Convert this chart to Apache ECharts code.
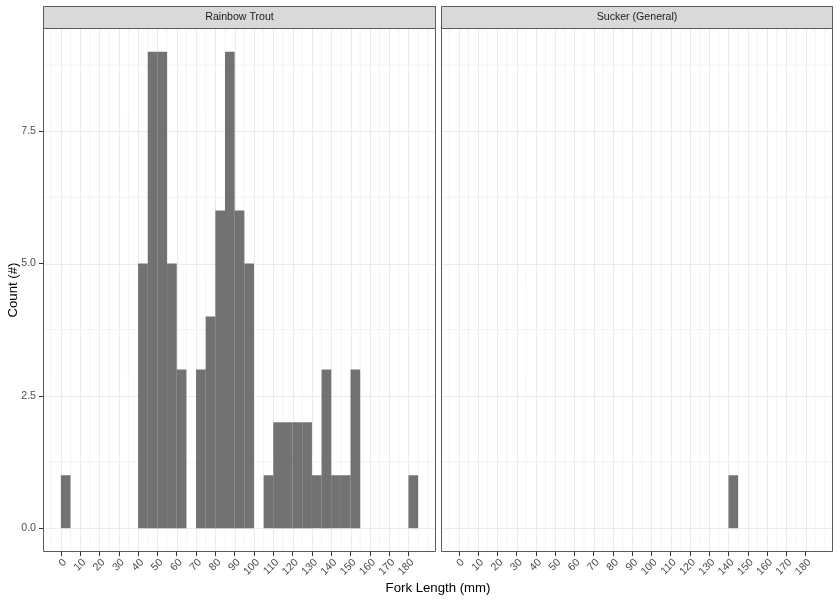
<!DOCTYPE html>
<html>
<head>
<meta charset="utf-8">
<script src="https://cdn.jsdelivr.net/npm/echarts@6/dist/echarts.min.js"></script>
<style>
html,body{margin:0;padding:0;background:#fff;}
#chart{width:840px;height:600px;}
</style>
</head>
<body>
<div id="chart"></div>
<script>
// ---- data ----
const facetNames = ['Rainbow Trout', 'Sucker (General)'];
const binWidth = 5;
const binStarts = [0,5,10,15,20,25,30,35,40,45,50,55,60,65,70,75,80,85,90,95,100,105,110,115,120,125,130,135,140,145,150,155,160,165,170,175,180];
const rainbowCounts = [1,0,0,0,0,0,0,0,5,9,9,5,3,0,3,4,6,9,6,5,0,1,2,2,2,2,1,3,1,1,3,0,0,0,0,0,1];
const suckerCounts  = [0,0,0,0,0,0,0,0,0,0,0,0,0,0,0,0,0,0,0,0,0,0,0,0,0,0,0,0,1,0,0,0,0,0,0,0,0];
const xTickLabels = [0,10,20,30,40,50,60,70,80,90,100,110,120,130,140,150,160,170,180];
const xMinorBreaks = [-5,5,15,25,35,45,55,65,75,85,95,105,115,125,135,145,155,165,175,185,190];
const yTickLabels = [0,2.5,5,7.5];
const yMinorBreaks = [1.25,3.75,6.25,8.75];
const xTitle = 'Fork Length (mm)';
const yTitle = 'Count (#)';

// ---- layout ----
const FONT = 'Liberation Sans, Arial, sans-serif';
const panels = [
  {left: 43, width: 393},
  {left: 441, width: 392}
];
const panelTop = 28, panelHeight = 524;
const stripTop = 6, stripHeight = 22;
const xMin = -9.25, xMax = 194.25, yMin = -0.45, yMax = 9.45;

const chart = echarts.init(document.getElementById('chart'), null, {renderer: 'canvas'});

const gridData = [];
xTickLabels.forEach(v => gridData.push([v, 0, 1]));
xMinorBreaks.forEach(v => gridData.push([v, 0, 0]));
yTickLabels.forEach(v => gridData.push([v, 1, 1]));
yMinorBreaks.forEach(v => gridData.push([v, 1, 0]));

function gridRender(params, api) {
  const cs = params.coordSys;
  const v = api.value(0), orient = api.value(1), major = api.value(2);
  const lw = major ? 1 : 0.6;
  let shape;
  if (orient === 0) {
    const p = api.coord([v, 0]);
    const x = major ? Math.round(p[0]) + 0.5 : p[0];
    shape = {x1: x, y1: cs.y, x2: x, y2: cs.y + cs.height};
  } else {
    const p = api.coord([0, v]);
    const y = major ? Math.round(p[1]) + 0.5 : p[1];
    shape = {x1: cs.x, y1: y, x2: cs.x + cs.width, y2: y};
  }
  return {type: 'line', shape: shape, style: {stroke: '#ebebeb', lineWidth: lw}, silent: true};
}

function barRender(params, api) {
  const x0 = api.value(0), c = api.value(1);
  if (!c) return null;
  const p1 = api.coord([x0, c]);
  const p2 = api.coord([x0 + binWidth, 0]);
  return {
    type: 'rect',
    shape: {x: p1[0], y: p1[1], width: p2[0] - p1[0], height: p2[1] - p1[1]},
    style: {fill: 'rgba(89,89,89,0.85)'}
  };
}

const countsList = [rainbowCounts, suckerCounts];

const option = {
  animation: false,
  backgroundColor: '#ffffff',
  textStyle: {fontFamily: FONT},
  grid: panels.map(p => ({
    left: p.left, top: panelTop, width: p.width, height: panelHeight,
    show: true, backgroundColor: '#ffffff', borderWidth: 0,
    containLabel: false
  })),
  xAxis: panels.map((p, i) => ({
    type: 'value', gridIndex: i, min: xMin, max: xMax, position: 'bottom',
    axisLine: {show: false, onZero: false},
    splitLine: {show: false},
    axisTick: {show: true, customValues: xTickLabels, length: 4, lineStyle: {color: '#333', width: 1}},
    axisLabel: {show: true, customValues: xTickLabels, rotate: 45, fontSize: 10.6, color: '#4d4d4d', margin: 5,
      verticalAlign: 'top', fontFamily: FONT}
  })),
  yAxis: panels.map((p, i) => ({
    type: 'value', gridIndex: i, min: yMin, max: yMax, position: 'left',
    axisLine: {show: false, onZero: false},
    splitLine: {show: false},
    axisTick: {show: i === 0, customValues: yTickLabels, length: 4, lineStyle: {color: '#333', width: 1}},
    axisLabel: {show: i === 0, customValues: yTickLabels, fontSize: 10.6, color: '#4d4d4d', margin: 7,
      formatter: v => Number(v).toFixed(1), fontFamily: FONT}
  })),
  series: [].concat(
    panels.map((p, i) => ({
      type: 'custom', xAxisIndex: i, yAxisIndex: i, z: 1, silent: true,
      renderItem: gridRender, data: gridData, clip: true
    })),
    panels.map((p, i) => ({
      type: 'custom', xAxisIndex: i, yAxisIndex: i, z: 2, silent: true,
      renderItem: barRender,
      data: binStarts.map((b, k) => [b, countsList[i][k]]),
      encode: {x: 0, y: 1}, clip: true
    }))
  ),
  graphic: [].concat(
    panels.map((p, i) => ({
      type: 'group', left: p.left, top: stripTop, z: 100,
      children: [
        {type: 'rect', z: 100, shape: {x: 0.5, y: 0.5, width: p.width - 1, height: stripHeight},
          style: {fill: '#d9d9d9', stroke: '#5a5a5a', lineWidth: 1}},
        {type: 'text', z: 101, x: p.width / 2, y: stripHeight / 2 + 0.5,
          style: {text: facetNames[i], fill: '#1a1a1a', fontSize: 10.6, align: 'center', verticalAlign: 'middle',
            fontFamily: FONT}}
      ]
    })),
    panels.map((p, i) => ({
      type: 'rect', z: 100, silent: true,
      shape: {x: p.left + 0.5, y: panelTop + 0.5, width: p.width - 1, height: panelHeight - 1},
      style: {fill: null, stroke: '#5a5a5a', lineWidth: 1}
    })),
    [
      {type: 'text', z: 100, x: (panels[0].left + panels[1].left + panels[1].width) / 2, y: 588,
        style: {text: xTitle, fill: '#000', fontSize: 13.2, align: 'center', verticalAlign: 'middle',
          fontFamily: FONT}},
      {type: 'text', z: 100, x: 13, y: panelTop + panelHeight / 2, rotation: Math.PI / 2,
        style: {text: yTitle, fill: '#000', fontSize: 13.2, align: 'center', verticalAlign: 'middle',
          fontFamily: FONT}}
    ]
  )
};
chart.setOption(option);
</script>
</body>
</html>
